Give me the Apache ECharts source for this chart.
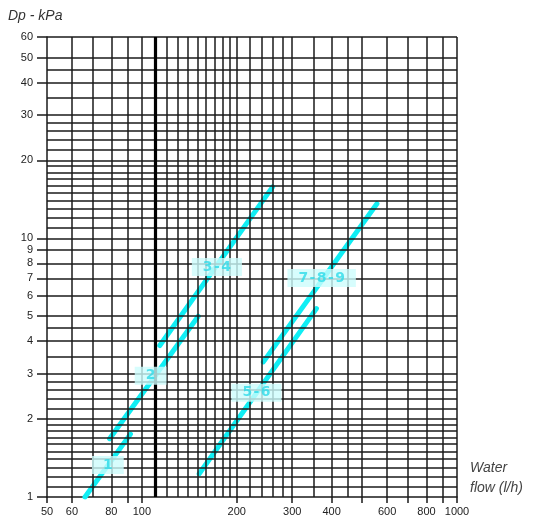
<!DOCTYPE html>
<html>
<head>
<meta charset="utf-8">
<script src="https://cdn.jsdelivr.net/npm/echarts@6/dist/echarts.min.js"></script>
<style>html,body{margin:0;padding:0;background:#fff}#c{width:544px;height:523px}</style>
</head>
<body>
<div id="c"></div>
<script>
// Data (flow in l/h, pressure drop in kPa)
const line1 = [[66, 1.0], [92, 1.75]];
const line2 = [[79, 1.68], [151, 5.0]];
const line34 = [[114, 3.85], [260, 15.8]];
const line56 = [[152, 1.23], [358, 5.35]];
const line789 = [[243, 3.33], [557, 13.6]];
const curveNames = ['1', '2', '3-4', '5-6', '7-8-9'];
const labelPoints = [[78, 1.33], [106.6, 2.94], [173, 7.75], [231, 2.53], [372, 7.03]];

const xTickLabels = [50, 60, 80, 100, 200, 300, 400, 600, 800, 1000];
const xTicks = [50, 60, 80, 90, 100, 200, 300, 400, 500, 600, 700, 800, 900, 1000];
const yTickLabels = [1, 2, 3, 4, 5, 6, 7, 8, 9, 10, 20, 30, 40, 50, 60];
const xGrid = [60, 70, 80, 90, 100, 120, 130, 140, 150, 160, 170, 180, 190, 200,
  220, 240, 260, 280, 300, 350, 400, 450, 500, 600, 700, 800, 900, 1000];
const xHeavy = [110];
const yGrid = [1.1, 1.2, 1.3, 1.4, 1.5, 1.6, 1.7, 1.8, 1.9, 2, 2.2, 2.4, 2.6, 2.8, 3, 3.5, 4, 4.5,
  5, 6, 7, 8, 9, 10, 11, 12, 13, 14, 15, 16, 17, 18, 19, 20, 22, 24, 26, 28, 30, 35, 40, 45, 50, 60];

const curves = [line1, line2, line34, line56, line789];
const font = 'Liberation Sans, Arial, sans-serif';
const chart = echarts.init(document.getElementById('c'), null, {renderer: 'canvas'});

const gridLineStyle = {color: '#1a1a1a', width: 1.5, type: 'solid'};
const series = [];
series.push({
  type: 'line', data: [[50, 1]], showSymbol: false, silent: true, z: 1,
  lineStyle: {opacity: 0},
  markLine: {
    silent: true, symbol: 'none', animation: false,
    label: {show: false}, emphasis: {disabled: true},
    lineStyle: gridLineStyle,
    data: xGrid.map(v => ({xAxis: v})).concat(yGrid.map(v => ({yAxis: v})))
      .concat(xHeavy.map(v => ({xAxis: v, lineStyle: {width: 3.2, color: '#000'}})))
  }
});
curves.forEach((d, i) => {
  series.push({
    name: curveNames[i], type: 'line', data: d, showSymbol: false, z: 3,
    lineStyle: {color: '#10eef4', width: 5, cap: 'round'}, animation: false
  });
});
series.push({
  type: 'scatter', z: 5, symbolSize: 0, animation: false,
  data: labelPoints.map((p, i) => ({value: p, name: curveNames[i]})),
  label: {
    show: true, position: 'inside', formatter: p => p.name.split('').join('\u200A'),
    color: '#2edbe8', fontFamily: 'DejaVu Sans, sans-serif', fontWeight: 'bold', fontSize: 14,
    backgroundColor: '#cdfcfc', padding: [2, 11, 1, 11], lineHeight: 15
  }
});

chart.setOption({
  animation: false,
  grid: {left: 47, right: 87, top: 37, bottom: 26, containLabel: false},
  xAxis: {
    type: 'log', logBase: 10, min: 50, max: 1000,
    axisLine: {show: true, lineStyle: {color: '#1a1a1a', width: 1.5}},
    axisTick: {show: true, length: 6, inside: false, customValues: xTicks, lineStyle: {color: '#1a1a1a', width: 1.5}},
    axisLabel: {customValues: xTickLabels, formatter: v => String(Math.round(v)), margin: 9, fontSize: 11, color: '#222', fontFamily: font, showMinLabel: true, showMaxLabel: true},
    splitLine: {show: false}, minorTick: {show: false}
  },
  yAxis: {
    type: 'log', logBase: 10, min: 1, max: 60,
    axisLine: {show: true, lineStyle: {color: '#1a1a1a', width: 1.5}},
    axisTick: {show: true, length: 10, inside: false, customValues: yTickLabels, lineStyle: {color: '#1a1a1a', width: 1.5}},
    axisLabel: {customValues: yTickLabels, formatter: v => String(Math.round(v)), margin: 14, fontSize: 11, color: '#222', fontFamily: font, showMinLabel: true, showMaxLabel: true},
    splitLine: {show: false}, minorTick: {show: false}
  },
  graphic: [
    {type: 'text', left: 8, top: 9, style: {text: 'Dp - kPa', font: 'italic 14px ' + font, fill: '#333'}},
    {type: 'text', left: 470, top: 461, style: {text: 'Water', font: 'italic 14px ' + font, fill: '#444'}},
    {type: 'text', left: 470, top: 481, style: {text: 'flow (l/h)', font: 'italic 14px ' + font, fill: '#444'}}
  ],
  series: series
});
</script>
</body>
</html>
